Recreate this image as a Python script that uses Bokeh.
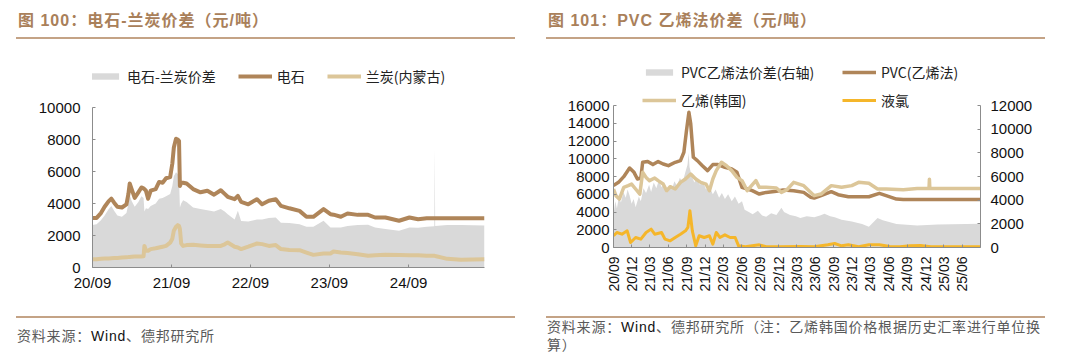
import pandas as pd
from math import pi
from bokeh.plotting import figure
from bokeh.models import (Range1d, LinearAxis, FixedTicker, DatetimeTickFormatter,
                          Legend, LegendItem, Div, ColumnDataSource)
from bokeh.layouts import row, column
from bokeh.embed import file_html
from bokeh.resources import INLINE

# ---------------- data: 图100 电石-兰炭价差 ----------------
left_dates = [
    "2020-09-01", "2020-09-20", "2020-10-10", "2020-10-27", "2020-11-15", "2020-11-27", "2020-12-10", "2020-12-25",
    "2021-01-15", "2021-02-05", "2021-02-14", "2021-02-20", "2021-03-01", "2021-03-15", "2021-04-01", "2021-04-15",
    "2021-04-25", "2021-04-29", "2021-05-06", "2021-05-16", "2021-05-28", "2021-06-20", "2021-07-06", "2021-07-22",
    "2021-08-07", "2021-08-26", "2021-09-05", "2021-09-12", "2021-09-22", "2021-09-30", "2021-10-06", "2021-10-10",
    "2021-10-16", "2021-10-25", "2021-11-10", "2021-12-10", "2022-01-13", "2022-02-14", "2022-03-17", "2022-04-17",
    "2022-05-05", "2022-05-19", "2022-06-20", "2022-07-05", "2022-07-20", "2022-08-22", "2022-10-01", "2022-10-25",
    "2022-11-25", "2022-12-27", "2023-01-20", "2023-02-28", "2023-04-16", "2023-05-18", "2023-06-19", "2023-08-05",
    "2023-09-06", "2023-09-20", "2023-10-24", "2023-11-24", "2024-01-10", "2024-02-27", "2024-03-30", "2024-05-17",
    "2024-07-19", "2024-09-05", "2024-10-15", "2024-11-24", "2024-12-29", "2024-12-31", "2025-01-02", "2025-02-27",
    "2025-05-01", "2025-08-18"]
carbide = [
    3100, 3100, 3400, 3800, 4150, 4300, 4050, 3800,
    3750, 3950, 4600, 5250, 4900, 4350, 4700, 5000,
    4950, 4900, 4800, 4300, 4800, 4900, 5350, 5300,
    5580, 5650, 6500, 7500, 8050, 8000, 7900, 5100,
    5300, 5300, 5250, 4900, 4700, 4800, 4550, 4830,
    4600, 4420, 4270, 4480, 4100, 3950, 4270, 3950,
    4170, 4270, 3850, 3700, 3540, 3170, 3170, 3650,
    3330, 3300, 3170, 3375, 3290, 3290, 3125, 3125,
    2920, 3125, 3020, 3080, 3080, 3080, 3080, 3080,
    3080, 3080]
carbide_spread = [
    2650, 2700, 2950, 3250, 3650, 3850, 3550, 3250,
    3170, 3400, 4000, 4550, 4150, 3800, 4100, 4450,
    4350, 3500, 3700, 3650, 3850, 4000, 4300, 4350,
    4450, 4600, 5100, 5700, 5950, 5850, 5600, 3750,
    4000, 4200, 4100, 3750, 3650, 3580, 3500, 3650,
    3500, 3330, 3000, 3550, 2900, 2875, 3000, 3000,
    3100, 3125, 2800, 2780, 2700, 2540, 2550, 2920,
    2500, 2500, 2500, 2600, 2650, 2670, 2500, 2400,
    2300, 2500, 2480, 2550, 2580, 7500, 2600, 2650,
    2650, 2620]
semicoke = [
    520, 520, 540, 560, 570, 580, 590, 600,
    620, 640, 650, 660, 670, 680, 690, 690,
    700, 1350, 1050, 1050, 1150, 1200, 1250, 1300,
    1350, 1550, 1800, 2300, 2550, 2650, 2600, 2400,
    1500, 1350, 1400, 1420, 1380, 1350, 1350, 1350,
    1450, 1560, 1300, 1250, 1150, 1300, 1500, 1460,
    1350, 1400, 1150, 1100, 1080, 930, 790, 875,
    875, 1000, 940, 900, 830, 730, 760, 790,
    780, 770, 760, 730, 730, 730, 720, 540,
    480, 520]
left_tick_labels = ["20/09", "21/09", "22/09", "23/09", "24/09"]
left_axis_max = 10000

# ---------------- data: 图101 PVC 乙烯法价差 ----------------
pvc_dates = ["2020-09-01", "2020-09-26", "2020-10-22", "2020-11-20", "2020-12-12", "2020-12-29", "2021-01-15",
             "2021-01-24", "2021-02-18", "2021-03-16", "2021-04-11", "2021-05-06", "2021-06-01", "2021-07-05",
             "2021-07-31", "2021-08-17", "2021-08-30", "2021-09-11", "2021-09-20", "2021-10-03", "2021-10-23",
             "2021-11-17", "2021-12-13", "2022-01-08", "2022-02-03", "2022-03-09", "2022-04-12", "2022-05-08",
             "2022-06-02", "2022-06-28", "2022-07-23", "2022-08-27", "2022-09-30", "2022-11-20", "2022-12-24",
             "2023-02-14", "2023-04-05", "2023-05-10", "2023-05-27", "2023-06-30", "2023-08-20", "2023-09-23",
             "2023-11-13", "2024-02-23", "2024-04-15", "2024-05-19", "2024-07-09", "2024-08-12", "2025-08-31"]
pvc_price = [7000, 7340, 7980, 8960, 8470, 7720, 7830,
             9600, 9700, 9340, 9680, 9410, 9220, 9600,
             9790, 10730, 13180, 15250, 13930, 10170, 9790,
             9220, 8660, 9340, 9340, 9040, 8850, 8470,
             6780, 6590, 6400, 6020, 6210, 6330, 6480,
             6400, 6210, 5650, 5570, 5840, 6290, 5950,
             5720, 5720, 6100, 5840, 5460, 5400, 5400]

ethylene_dates = ["2020-09-01", "2020-09-13", "2020-09-30", "2020-10-22", "2020-11-13", "2020-11-30", "2020-12-20",
                  "2021-01-10", "2021-01-24", "2021-02-10", "2021-02-27", "2021-03-25", "2021-04-11", "2021-05-06",
                  "2021-05-23", "2021-06-10", "2021-07-05", "2021-07-31", "2021-08-25", "2021-09-20", "2021-10-15",
                  "2021-11-09", "2021-12-05", "2021-12-22", "2022-01-08", "2022-01-25", "2022-02-20", "2022-03-17",
                  "2022-04-12", "2022-05-08", "2022-06-02", "2022-06-28", "2022-07-15", "2022-08-10", "2022-08-27",
                  "2022-09-30", "2022-11-20", "2022-12-15", "2023-01-10", "2023-02-14", "2023-04-05", "2023-05-27",
                  "2023-06-30", "2023-08-20", "2023-10-10", "2023-11-30", "2024-01-03", "2024-02-23", "2024-04-06",
                  "2024-05-19", "2024-08-12", "2024-10-20", "2024-12-18", "2024-12-20", "2024-12-22", "2025-08-31"]
ethylene_price = [6590, 5840, 5460, 6780, 6970, 7150, 6590,
                  6020, 8470, 7900, 7530, 7830, 7530, 7150,
                  6400, 6850, 6590, 7340, 7720, 8280, 7720,
                  7340, 7150, 6400, 7720, 8660, 9600, 9220,
                  8660, 7900, 7530, 6400, 6850, 7530, 6780,
                  6780, 6700, 6210, 6480, 7340, 6970, 5840,
                  6020, 6970, 6780, 6970, 7340, 7230, 6590,
                  6590, 6510, 6660, 6660, 7700, 6660, 6650]

chlorine_dates = ["2020-09-01", "2020-09-18", "2020-10-13", "2020-11-08", "2020-11-25", "2020-12-20", "2021-01-15",
                  "2021-02-10", "2021-03-07", "2021-03-25", "2021-04-28", "2021-05-15", "2021-06-10", "2021-07-05",
                  "2021-07-31", "2021-08-25", "2021-09-06", "2021-09-16", "2021-09-28", "2021-10-15", "2021-11-01",
                  "2021-11-26", "2021-12-22", "2022-01-08", "2022-01-25", "2022-02-12", "2022-03-09", "2022-04-04",
                  "2022-04-29", "2022-05-16", "2022-06-19", "2022-07-23", "2022-08-27", "2022-09-30", "2022-12-07",
                  "2023-03-19", "2023-05-27", "2023-08-03", "2023-09-06", "2023-10-10", "2023-11-13", "2024-01-03",
                  "2024-02-23", "2024-04-15", "2024-06-06", "2024-07-26", "2024-09-16", "2024-11-06", "2024-12-27",
                  "2025-08-31"]
chlorine_price = [1320, 1690, 1500, 1880, 565, 1130, 940,
                  1690, 2070, 1500, 1690, 940, 750, 1130,
                  1500, 1880, 2260, 4140, 1880, 190, 1320,
                  1130, 1320, 380, 1690, 1130, 1430, 1130,
                  1130, 190, 80, 190, 300, 80, 80,
                  110, 80, 300, 450, 190, 300, 80,
                  300, 300, 110, 80, 190, 230, 80,
                  80]

pvc_spread_dates = ["2020-09-01", "2020-09-10", "2020-09-18", "2020-09-28", "2020-10-08", "2020-10-20", "2020-11-01",
                    "2020-11-10", "2020-11-20", "2020-11-30", "2020-12-10", "2020-12-20", "2021-01-05", "2021-01-15",
                    "2021-01-28", "2021-02-10", "2021-02-25", "2021-03-07", "2021-03-20", "2021-04-02", "2021-04-15",
                    "2021-04-28", "2021-05-10", "2021-05-23", "2021-06-05", "2021-06-18", "2021-07-01", "2021-07-14",
                    "2021-07-28", "2021-08-10", "2021-08-25", "2021-09-04", "2021-09-10", "2021-09-14", "2021-09-24",
                    "2021-10-08", "2021-10-20", "2021-11-05", "2021-11-20", "2021-12-05", "2021-12-20", "2022-01-08",
                    "2022-01-22", "2022-02-08", "2022-02-22", "2022-03-09", "2022-03-25", "2022-04-12", "2022-04-28",
                    "2022-05-16", "2022-06-02", "2022-06-15", "2022-07-06", "2022-07-25", "2022-08-20", "2022-09-10",
                    "2022-09-30", "2022-10-25", "2022-11-20", "2022-12-15", "2022-12-28", "2023-01-27", "2023-02-25",
                    "2023-03-19", "2023-04-20", "2023-05-27", "2023-06-25", "2023-07-17", "2023-08-15", "2023-09-06",
                    "2023-10-10", "2023-11-30", "2024-01-20", "2024-02-23", "2024-04-06", "2024-05-02", "2024-07-09",
                    "2024-10-20", "2025-01-31", "2025-08-31"]
pvc_spread = [2820, 3900, 3300, 4300, 3800, 4700, 4200,
              4900, 4400, 3700, 4100, 3400, 4300, 3900,
              5000, 4600, 5300, 4700, 5500, 5000, 5700,
              5100, 5400, 4600, 5300, 4900, 5600, 5200,
              5900, 5500, 6400, 7000, 8000, 6800, 6100,
              5500, 5900, 5300, 5600, 4900, 5200, 4500,
              4900, 4200, 4600, 4100, 4500, 3900, 4300,
              3700, 3900, 3200, 3000, 2800, 3100, 2700,
              2600, 2900, 2750, 3350, 3000, 2750, 2650,
              2500, 2650, 2550, 2700, 2850, 2650, 2550,
              2350, 2200, 1980, 1750, 2500, 2300, 1980,
              1850, 1950, 2000]
right_tick_labels = ["20/09", "20/12", "21/03", "21/06", "21/09", "21/12", "22/03", "22/06", "22/09", "22/12",
                     "23/03", "23/06", "23/09", "23/12", "24/03", "24/06", "24/09", "24/12", "25/03", "25/06"]
right_left_axis_max = 16000
right_right_axis_max = 12000

# ---------------- styling / layout constants ----------------
BROWN = "#AF8559"
TAN = "#DCC699"
ORANGE = "#F5B62A"
GREY = "#D9D9D9"
AXIS = "#8C8C8C"
TITLE_C = "#A9805A"
RULE_C = "#C4A386"
NUM_FONT = "Liberation Sans"
CJK_FONT = "Noto Sans CJK SC"
PANEL_W = 540
FIG_H = 268
FRAME_TOP_PAD = 10            # frame starts above the axes so that the legend lies inside it
L_AXIS_H, R_AXIS_H = 160, 142  # pixel height of the drawn value axes


def label_ms(lbl):
    yy, mm = lbl.split("/")
    return pd.Timestamp(year=2000 + int(yy), month=int(mm), day=1).value // 10**6


def date_fmt():
    f = "%y/%m"
    return DatetimeTickFormatter(microseconds=f, milliseconds=f, seconds=f, minsec=f, minutes=f,
                                 hourmin=f, hours=f, days=f, months=f, years=f)


def style_axis(ax, standoff, size="15px"):
    ax.axis_line_color = AXIS
    ax.axis_line_width = 1
    ax.major_tick_line_color = AXIS
    ax.major_tick_in = 3
    ax.major_tick_out = 0
    ax.minor_tick_line_color = None
    ax.major_label_text_font = NUM_FONT
    ax.major_label_text_font_size = size
    ax.major_label_text_color = "#111111"
    ax.major_label_standoff = standoff


def style_legend(leg):
    leg.label_text_font = CJK_FONT
    leg.label_text_font_size = "14px"
    leg.label_text_color = "#222222"
    leg.glyph_width = 34
    leg.glyph_height = 8
    leg.label_height = 16
    leg.label_standoff = 5
    leg.padding = 0
    leg.margin = 0
    leg.border_line_color = None
    leg.background_fill_alpha = 0


def title_div(text, text_left, rule_left):
    html = (
        f'<div style="position:relative;width:{PANEL_W}px;height:40px;">'
        f'<div style="position:absolute;left:{text_left}px;top:10px;line-height:22px;white-space:nowrap;'
        f"font-family:'{NUM_FONT}','{CJK_FONT}';font-weight:bold;font-size:16px;letter-spacing:1px;"
        f'color:{TITLE_C};">{text}</div>'
        f'<div style="position:absolute;left:{rule_left}px;top:37px;width:499px;height:2px;'
        f'background:{RULE_C};"></div></div>')
    return Div(text=html, width=PANEL_W, height=40, margin=0)


def source_div(lines, rule_left, rule_top, text_top):
    body = "<br>".join(lines)
    html = (
        f'<div style="position:relative;width:{PANEL_W}px;height:52px;">'
        f'<div style="position:absolute;left:{rule_left}px;top:{rule_top}px;width:499px;height:2px;'
        f'background:{RULE_C};"></div>'
        f'<div style="position:absolute;left:{rule_left + 1}px;top:{text_top}px;line-height:18px;white-space:nowrap;'
        f"font-family:'{NUM_FONT}','{CJK_FONT}';font-size:14px;letter-spacing:0.8px;color:#5a5a5a;\">"
        f'{body}</div></div>')
    return Div(text=html, width=PANEL_W, height=52, margin=0)


# ---------------- left chart ----------------
src_l = ColumnDataSource(dict(x=pd.to_datetime(left_dates), carbide=carbide,
                              spread=carbide_spread, semicoke=semicoke))
l_frame_h = FIG_H - FRAME_TOP_PAD - 41
p1 = figure(width=PANEL_W, height=FIG_H, x_axis_type="datetime", output_backend="svg", toolbar_location=None,
            title=None,
            x_range=Range1d(pd.Timestamp(2020, 9, 1), pd.Timestamp(left_dates[-1])),
            y_range=Range1d(0, left_axis_max * l_frame_h / L_AXIS_H),
            min_border_left=92, min_border_right=56, min_border_top=FRAME_TOP_PAD, min_border_bottom=41)
p1.outline_line_color = None
p1.grid.visible = False
p1.background_fill_color = "white"
p1.border_fill_color = "white"

r_area = p1.varea(x="x", y1=0, y2="spread", source=src_l, fill_color=GREY)
r_c = p1.line("x", "carbide", source=src_l, line_color=BROWN, line_width=4, line_join="round")
r_s = p1.line("x", "semicoke", source=src_l, line_color=TAN, line_width=4, line_join="round")

p1.xaxis.ticker = FixedTicker(ticks=[label_ms(l) for l in left_tick_labels])
p1.xaxis.formatter = date_fmt()
p1.yaxis.ticker = FixedTicker(ticks=list(range(0, left_axis_max + 1, 2000)))
p1.yaxis.bounds = (0, left_axis_max)
style_axis(p1.xaxis[0], 6)
style_axis(p1.yaxis[0], 12)

leg1 = Legend(items=[LegendItem(label="电石-兰炭价差", renderers=[r_area]),
                     LegendItem(label="电石", renderers=[r_c]),
                     LegendItem(label="兰炭(内蒙古)", renderers=[r_s])],
              orientation="horizontal", location=(-4, 181))
style_legend(leg1)
leg1.spacing = 22
p1.add_layout(leg1)

# ---------------- right chart ----------------
r_frame_h = FIG_H - FRAME_TOP_PAD - 61
p2 = figure(width=PANEL_W, height=FIG_H, x_axis_type="datetime", output_backend="svg", toolbar_location=None,
            title=None,
            x_range=Range1d(pd.Timestamp(2020, 9, 1), pd.Timestamp(pvc_dates[-1])),
            y_range=Range1d(0, right_left_axis_max * r_frame_h / R_AXIS_H),
            min_border_left=73, min_border_right=100, min_border_top=FRAME_TOP_PAD, min_border_bottom=61)
p2.extra_y_ranges = {"right": Range1d(0, right_right_axis_max * r_frame_h / R_AXIS_H)}
p2.outline_line_color = None
p2.grid.visible = False
p2.background_fill_color = "white"
p2.border_fill_color = "white"

r2_area = p2.varea(x=pd.to_datetime(pvc_spread_dates), y1=0, y2=pvc_spread, fill_color=GREY,
                   y_range_name="right")
r2_pvc = p2.line(pd.to_datetime(pvc_dates), pvc_price, line_color=BROWN, line_width=3.5, line_join="round")
r2_eth = p2.line(pd.to_datetime(ethylene_dates), ethylene_price, line_color=TAN, line_width=3.5,
                 line_join="round")
r2_cl = p2.line(pd.to_datetime(chlorine_dates), chlorine_price, line_color=ORANGE, line_width=3,
                line_join="round")

p2.xaxis.ticker = FixedTicker(ticks=[label_ms(l) for l in right_tick_labels])
p2.xaxis.formatter = date_fmt()
p2.xaxis.major_label_orientation = pi / 2
p2.yaxis.ticker = FixedTicker(ticks=list(range(0, right_left_axis_max + 1, 2000)))
p2.yaxis.bounds = (0, right_left_axis_max)
style_axis(p2.xaxis[0], 9, "14px")
style_axis(p2.yaxis[0], 4)

ax_r = LinearAxis(y_range_name="right", ticker=FixedTicker(ticks=list(range(0, right_right_axis_max + 1, 2000))),
                  bounds=(0, right_right_axis_max))
style_axis(ax_r, 10)
p2.add_layout(ax_r, "right")

leg2 = Legend(items=[LegendItem(label="PVC乙烯法价差(右轴)", renderers=[r2_area]),
                     LegendItem(label="PVC(乙烯法)", renderers=[r2_pvc]),
                     LegendItem(label="乙烯(韩国)", renderers=[r2_eth]),
                     LegendItem(label="液氯", renderers=[r2_cl])],
              orientation="horizontal", ncols=2, location=(29, 137))
style_legend(leg2)
leg2.spacing = 8
leg2.label_width = 153
p2.add_layout(leg2)

# ---------------- page layout ----------------
wind = '<span style="color:#111111;">Wind</span>'
left_col = column(
    title_div("图 100：电石-兰炭价差（元/吨）", 18, 16),
    p1,
    source_div([f"资料来源：{wind}、德邦研究所"], 16, 8, 19),
    spacing=0)
right_col = column(
    title_div("图 101：PVC 乙烯法价差（元/吨）", 8, 6),
    p2,
    source_div([f"资料来源：{wind}、德邦研究所（注：乙烯韩国价格根据历史汇率进行单位换", "算）"], 6, 8, 10),
    spacing=0)
page = row(left_col, right_col, spacing=0)

open("out.html", "w").write(file_html(page, INLINE))
